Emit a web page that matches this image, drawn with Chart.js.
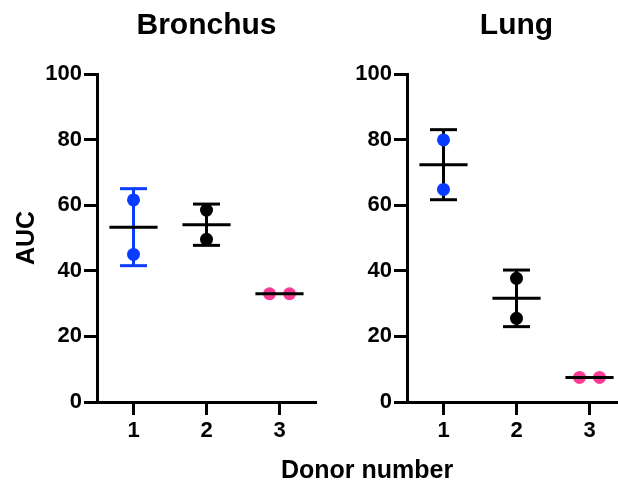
<!DOCTYPE html>
<html lang="en">
<head>
  <meta charset="UTF-8" />
  <title>AUC by donor</title>
  <script src="https://cdn.jsdelivr.net/npm/chart.js"></script>
  <style>
    body {
      margin: 0;
      width: 618px;
      height: 481px;
      overflow: hidden;
      background: #fff;
      position: relative;
      font-family: "Liberation Sans", Arial, sans-serif;
    }
    canvas { position: absolute; top: 0; }
    #bronchus { left: 0; }
    #lung { left: 310px; }
    #xtitle {
      position: absolute;
      left: 0;
      width: 734px;
      top: 457px;
      text-align: center;
      font-weight: bold;
      font-size: 25px;
      line-height: 25px;
      color: #000;
    }
  </style>
</head>
<body>
  <canvas id="bronchus" width="330" height="481"></canvas>
  <canvas id="lung" width="330" height="481"></canvas>
  <div id="xtitle">Donor number</div>

  <script>
    // donors on the x axis
    const donors = [1, 2, 3];
    const yTicks = [0, 20, 40, 60, 80, 100];

    // AUC values, two replicates per donor
    const bronchusAUC = [[61.6, 45.0], [58.5, 49.6], [33.0, 33.0]];
    const lungAUC = [[79.9, 64.8], [37.7, 25.5], [7.5, 7.5]];

    const donorColors = ["#0a3cff", "#000000", "#fa3c96"];

    function mean(a) { return a.reduce((s, v) => s + v, 0) / a.length; }
    function sd(a) {
      const m = mean(a);
      return Math.sqrt(a.reduce((s, v) => s + (v - m) * (v - m), 0) / (a.length - 1));
    }

    function seg(x1, y1, x2, y2, color, order) {
      return {
        type: "line",
        data: [{ x: x1, y: y1 }, { x: x2, y: y2 }],
        borderColor: color,
        borderWidth: 3,
        pointRadius: 0,
        borderCapStyle: "butt",
        order: order
      };
    }

    function buildDatasets(values, barColors) {
      const sets = [];
      values.forEach((reps, i) => {
        const x = donors[i];
        const m = mean(reps);
        const s = sd(reps);
        // mean line on top
        sets.push(seg(x - 0.33, m, x + 0.33, m, "#000", 0));
        // error bar (mean ± SD)
        if (s > 0) {
          sets.push(seg(x, m - s, x, m + s, barColors[i], 2));
          sets.push(seg(x - 0.185, m + s, x + 0.185, m + s, barColors[i], 2));
          sets.push(seg(x - 0.185, m - s, x + 0.185, m - s, barColors[i], 2));
        }
        // points, spread sideways when they coincide
        const same = reps[0] === reps[1];
        sets.push({
          type: "scatter",
          data: reps.map((v, k) => ({ x: same ? x + (k === 0 ? -0.137 : 0.137) : x, y: v })),
          backgroundColor: donorColors[i],
          borderWidth: 0,
          pointRadius: 6.5,
          order: 1
        });
      });
      return sets;
    }

    function makeChart(id, title, values, barColors, showYTitle) {
      new Chart(document.getElementById(id), {
        type: "scatter",
        data: { datasets: buildDatasets(values, barColors) },
        options: {
          responsive: false,
          animation: false,
          layout: { padding: { left: 0, right: 14, top: 0, bottom: 0 } },
          plugins: {
            legend: { display: false },
            tooltip: { enabled: false },
            title: {
              display: true,
              text: title,
              color: "#000",
              fullSize: false,
              font: { family: "Liberation Sans", size: 30, weight: "bold" },
              padding: { top: 8, bottom: 30 }
            }
          },
          scales: {
            x: {
              type: "linear",
              min: 0.5,
              max: 3.5,
              afterBuildTicks: s => { s.ticks = donors.map(v => ({ value: v })); },
              afterFit: s => { s.height = 79; },
              ticks: {
                color: "#000",
                padding: 3,
                font: { family: "Liberation Sans", size: 22, weight: "bold" }
              },
              grid: { drawOnChartArea: false, tickLength: 13, tickWidth: 3, tickColor: "#000" },
              border: { color: "#000", width: 3 }
            },
            y: {
              min: 0,
              max: 100,
              afterBuildTicks: s => { s.ticks = yTicks.map(v => ({ value: v })); },
              afterFit: s => { s.width = 97; },
              title: {
                display: showYTitle,
                text: "AUC",
                color: "#000",
                font: { family: "Liberation Sans", size: 25, weight: "bold" },
                padding: { top: 12, bottom: 0 }
              },
              ticks: {
                color: "#000",
                padding: 2,
                font: { family: "Liberation Sans", size: 22, weight: "bold" }
              },
              grid: { drawOnChartArea: false, tickLength: 13, tickWidth: 3, tickColor: "#000" },
              border: { color: "#000", width: 3 }
            }
          }
        }
      });
    }

    makeChart("bronchus", "Bronchus", bronchusAUC, ["#0a3cff", "#000", "#000"], true);
    makeChart("lung", "Lung", lungAUC, ["#000", "#000", "#000"], false);
  </script>
</body>
</html>
